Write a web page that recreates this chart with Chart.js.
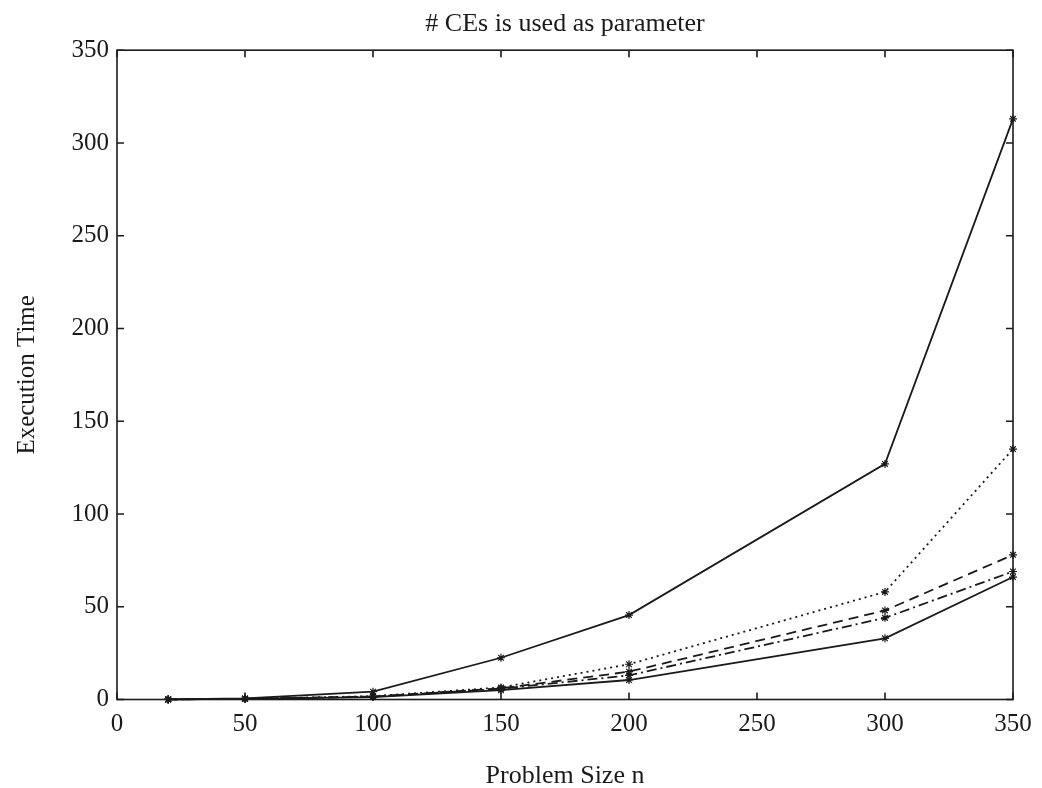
<!DOCTYPE html>
<html>
<head>
<meta charset="utf-8">
<title># CEs is used as parameter</title>
<script src="https://cdn.jsdelivr.net/npm/chart.js@4/dist/chart.umd.min.js"></script>
<style>
  html, body { margin: 0; padding: 0; background: #fff; }
  #wrap { width: 1042px; height: 788px; }
</style>
</head>
<body>
<div id="wrap"><canvas id="c" width="1042" height="788"></canvas></div>
<script>
// Problem sizes n
const problemSizes = [20, 50, 100, 150, 200, 300, 350];

// Execution time for each curve (# CEs varied)
const timeSolidTop = [0.1, 0.6, 4.2, 22.5, 45.5, 127, 313];
const timeDotted   = [0.05, 0.4, 1.8, 6.5, 19, 58, 135];
const timeDashed   = [0.05, 0.4, 1.6, 6.0, 15, 48, 78];
const timeDashDot  = [0.05, 0.35, 1.5, 5.8, 13, 44, 69];
const timeSolidLow = [0.05, 0.3, 1.3, 5.0, 10.5, 33, 66];

// Axis tick values
const xTicks = [0, 50, 100, 150, 200, 250, 300, 350];
const yTicks = [0, 50, 100, 150, 200, 250, 300, 350];

const INK = '#1a1a1a';
const SERIF = '"Liberation Serif", "Times New Roman", serif';

function toPoints(values) {
  return problemSizes.map((n, i) => ({ x: n, y: values[i] }));
}

function series(values, dash) {
  return {
    data: toPoints(values),
    borderColor: INK,
    backgroundColor: INK,
    borderWidth: 1.8,
    borderDash: dash,
    tension: 0,
    fill: false,
    pointStyle: 'star',
    pointRadius: 4,
    pointBorderWidth: 1.2,
    pointBorderColor: INK,
    clip: false
  };
}

// Box frame with inward tick marks on all four sides
const frameTicks = {
  id: 'frameTicks',
  afterDatasetsDraw(chart) {
    const { ctx, chartArea: a, scales: { x, y } } = chart;
    const len = 7;
    ctx.save();
    ctx.strokeStyle = INK;
    ctx.lineWidth = 1.6;
    ctx.strokeRect(a.left, a.top, a.right - a.left, a.bottom - a.top);
    ctx.beginPath();
    xTicks.forEach(v => {
      const px = x.getPixelForValue(v);
      ctx.moveTo(px, a.bottom); ctx.lineTo(px, a.bottom - len);
      ctx.moveTo(px, a.top); ctx.lineTo(px, a.top + len);
    });
    yTicks.forEach(v => {
      const py = y.getPixelForValue(v);
      ctx.moveTo(a.left, py); ctx.lineTo(a.left + len, py);
      ctx.moveTo(a.right, py); ctx.lineTo(a.right - len, py);
    });
    ctx.stroke();
    ctx.restore();
  }
};

new Chart(document.getElementById('c'), {
  type: 'line',
  data: {
    datasets: [
      series(timeSolidTop, []),
      series(timeDotted, [2, 4]),
      series(timeDashed, [10, 6]),
      series(timeDashDot, [10, 4, 2, 4]),
      series(timeSolidLow, [])
    ]
  },
  options: {
    responsive: false,
    animation: false,
    events: [],
    layout: { padding: { left: 0, right: 29, top: 0, bottom: 0 } },
    plugins: {
      legend: { display: false },
      tooltip: { enabled: false },
      title: {
        display: true,
        text: '# CEs is used as parameter',
        color: INK,
        fullSize: false,
        font: { family: SERIF, size: 26, weight: 'normal' },
        padding: { top: 9, bottom: 10 }
      }
    },
    scales: {
      x: {
        type: 'linear',
        min: 0,
        max: 350,
        grid: { display: false, drawTicks: false },
        border: { display: false },
        afterBuildTicks(scale) { scale.ticks = xTicks.map(v => ({ value: v })); },
        afterFit(scale) { scale.height = 88.5; },
        ticks: {
          color: INK,
          padding: 10,
          maxRotation: 0,
          autoSkip: false,
          font: { family: SERIF, size: 25 }
        },
        title: {
          display: true,
          text: 'Problem Size n',
          color: INK,
          font: { family: SERIF, size: 26 },
          padding: { top: 0, bottom: -4 }
        }
      },
      y: {
        type: 'linear',
        min: 0,
        max: 350,
        grid: { display: false, drawTicks: false },
        border: { display: false },
        afterBuildTicks(scale) { scale.ticks = yTicks.map(v => ({ value: v })); },
        afterFit(scale) { scale.width = 117; },
        ticks: {
          color: INK,
          padding: 8,
          autoSkip: false,
          font: { family: SERIF, size: 25 }
        },
        title: {
          display: true,
          text: 'Execution Time',
          color: INK,
          font: { family: SERIF, size: 25 },
          padding: { top: 12, bottom: 0 }
        }
      }
    }
  },
  plugins: [frameTicks]
});
</script>
</body>
</html>
